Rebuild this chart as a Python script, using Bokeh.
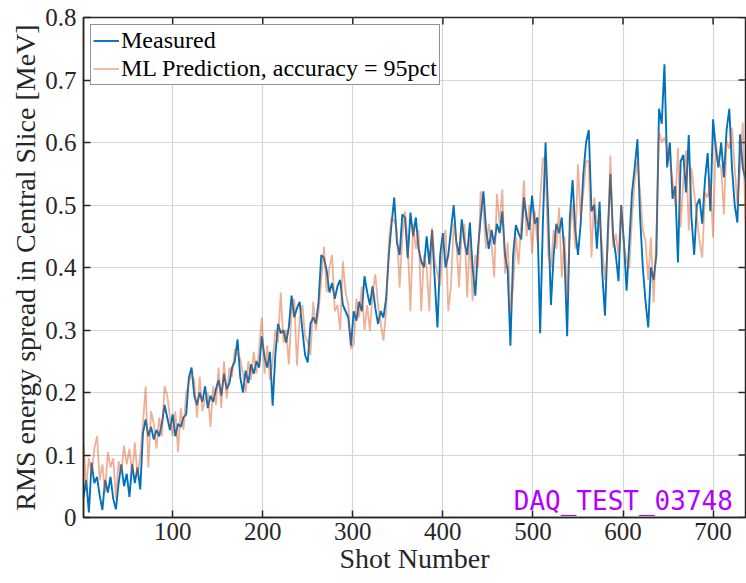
from bokeh.plotting import figure
from bokeh.models import Range1d, Legend, LegendItem, Label, FixedTicker
from bokeh.embed import file_html
from bokeh.resources import INLINE

measured = [
    0.032, 0.060, 0.008, 0.088, 0.055, 0.065, 0.035, 0.012, 0.060, 0.040,
    0.065, 0.030, 0.013, 0.055, 0.085, 0.050, 0.070, 0.033, 0.085, 0.055,
    0.080, 0.045, 0.135, 0.157, 0.130, 0.145, 0.125, 0.140, 0.130, 0.150,
    0.180, 0.160, 0.140, 0.165, 0.130, 0.150, 0.145, 0.160, 0.165, 0.224,
    0.240, 0.195, 0.180, 0.200, 0.185, 0.210, 0.175, 0.195, 0.185, 0.205,
    0.220, 0.195, 0.230, 0.205, 0.215, 0.240, 0.250, 0.285, 0.225, 0.200,
    0.235, 0.215, 0.245, 0.230, 0.250, 0.240, 0.290, 0.256, 0.240, 0.265,
    0.179, 0.260, 0.310, 0.295, 0.300, 0.280, 0.305, 0.355, 0.320, 0.335,
    0.345, 0.300, 0.260, 0.248, 0.310, 0.320, 0.310, 0.345, 0.420, 0.415,
    0.395, 0.360, 0.375, 0.350, 0.370, 0.380, 0.340, 0.330, 0.320, 0.275,
    0.330, 0.315, 0.345, 0.330, 0.386, 0.360, 0.340, 0.370, 0.335, 0.310,
    0.330, 0.320, 0.350, 0.420, 0.470, 0.512, 0.440, 0.420, 0.485, 0.480,
    0.415, 0.488, 0.450, 0.480, 0.430, 0.410, 0.400, 0.450, 0.405, 0.460,
    0.380, 0.304, 0.420, 0.455, 0.400, 0.420, 0.460, 0.500, 0.440, 0.420,
    0.477, 0.440, 0.420, 0.472, 0.400, 0.355, 0.430, 0.480, 0.522, 0.460,
    0.430, 0.460, 0.437, 0.470, 0.455, 0.490, 0.420, 0.395, 0.275, 0.420,
    0.468, 0.455, 0.445, 0.512, 0.480, 0.460, 0.515, 0.470, 0.480, 0.295,
    0.470, 0.600, 0.480, 0.340, 0.420, 0.470, 0.455, 0.480, 0.420, 0.290,
    0.480, 0.540, 0.460, 0.420, 0.470, 0.550, 0.600, 0.620, 0.490, 0.500,
    0.430, 0.505, 0.390, 0.323, 0.450, 0.550, 0.450, 0.420, 0.378, 0.500,
    0.440, 0.363, 0.440, 0.520, 0.560, 0.605, 0.480, 0.400, 0.346, 0.304,
    0.400, 0.380, 0.420, 0.654, 0.630, 0.725, 0.560, 0.600, 0.510, 0.530,
    0.408, 0.570, 0.580, 0.520, 0.612, 0.480, 0.420, 0.500, 0.510, 0.470,
    0.540, 0.583, 0.490, 0.637, 0.590, 0.560, 0.600, 0.544, 0.620, 0.654,
    0.560, 0.500, 0.472, 0.613, 0.560, 0.540,
]

predicted = [
    0.120, 0.050, 0.095, 0.070, 0.110, 0.130, 0.060, 0.085, 0.040, 0.105,
    0.080, 0.095, 0.030, 0.090, 0.070, 0.115, 0.085, 0.110, 0.070, 0.120,
    0.065, 0.100, 0.150, 0.210, 0.080, 0.170, 0.150, 0.110, 0.160, 0.130,
    0.210, 0.195, 0.160, 0.130, 0.170, 0.105, 0.175, 0.140, 0.200, 0.215,
    0.230, 0.220, 0.160, 0.225, 0.170, 0.190, 0.200, 0.145, 0.210, 0.180,
    0.240, 0.175, 0.250, 0.190, 0.240, 0.225, 0.270, 0.260, 0.255, 0.230,
    0.200, 0.250, 0.220, 0.265, 0.230, 0.270, 0.320, 0.230, 0.275, 0.220,
    0.250, 0.300, 0.280, 0.360, 0.280, 0.300, 0.245, 0.330, 0.350, 0.243,
    0.320, 0.340, 0.290, 0.280, 0.260, 0.345, 0.300, 0.330, 0.380, 0.433,
    0.360, 0.400, 0.420, 0.330, 0.340, 0.300, 0.410, 0.360, 0.340, 0.270,
    0.277, 0.350, 0.320, 0.370, 0.300, 0.340, 0.298, 0.360, 0.389, 0.340,
    0.310, 0.283, 0.330, 0.440, 0.480, 0.475, 0.460, 0.368, 0.450, 0.490,
    0.440, 0.330, 0.470, 0.430, 0.460, 0.330, 0.420, 0.400, 0.330, 0.464,
    0.410, 0.390, 0.370, 0.440, 0.460, 0.330, 0.370, 0.470, 0.440, 0.368,
    0.460, 0.470, 0.352, 0.450, 0.347, 0.420, 0.400, 0.522, 0.490, 0.430,
    0.470, 0.440, 0.384, 0.518, 0.470, 0.525, 0.390, 0.440, 0.330, 0.368,
    0.450, 0.405, 0.470, 0.539, 0.450, 0.500, 0.422, 0.490, 0.440, 0.507,
    0.576, 0.560, 0.420, 0.400, 0.460, 0.430, 0.496, 0.384, 0.450, 0.350,
    0.460, 0.500, 0.430, 0.565, 0.480, 0.520, 0.570, 0.570, 0.416, 0.512,
    0.470, 0.480, 0.430, 0.380, 0.430, 0.579, 0.432, 0.454, 0.420, 0.500,
    0.435, 0.410, 0.400, 0.480, 0.540, 0.571, 0.520, 0.460, 0.442, 0.380,
    0.448, 0.344, 0.450, 0.618, 0.600, 0.608, 0.591, 0.571, 0.540, 0.500,
    0.591, 0.464, 0.540, 0.587, 0.459, 0.560, 0.520, 0.480, 0.442, 0.416,
    0.520, 0.512, 0.540, 0.448, 0.600, 0.570, 0.560, 0.485, 0.603, 0.590,
    0.624, 0.560, 0.501, 0.560, 0.632, 0.474,
]

shots = list(range(1, 737, 3))
assert len(shots) == len(measured) == len(predicted), (len(shots), len(measured), len(predicted))

x_ticks = [100, 200, 300, 400, 500, 600, 700]
y_ticks = [0, 0.1, 0.2, 0.3, 0.4, 0.5, 0.6, 0.7, 0.8]

FONT = "Liberation Serif"
TXT = "#262626"
X0, X1, Y0, Y1 = 1, 736, 0.0, 0.8

p = figure(width=746, height=583, output_backend="svg", toolbar_location=None,
           x_range=Range1d(X0, X1), y_range=Range1d(Y0, Y1),
           min_border_left=83, min_border_right=1, min_border_top=17, min_border_bottom=66)
p.background_fill_color = "white"
p.border_fill_color = "white"
p.outline_line_color = TXT
p.outline_line_width = 1.5

for ax in (p.xaxis[0], p.yaxis[0]):
    ax.major_label_text_font = FONT
    ax.major_label_text_font_size = "25px"
    ax.major_label_text_color = TXT
    ax.axis_label_text_font = FONT
    ax.axis_label_text_font_style = "normal"
    ax.axis_label_text_color = TXT
    ax.axis_label_text_font_size = "28px"
    ax.axis_line_color = TXT
    ax.axis_line_width = 1.5
    ax.major_tick_line_color = TXT
    ax.major_tick_line_width = 1.5
    ax.major_tick_in = 7
    ax.major_tick_out = 0
    ax.minor_tick_line_color = None

p.xaxis[0].ticker = FixedTicker(ticks=x_ticks)
p.yaxis[0].ticker = FixedTicker(ticks=y_ticks)
p.yaxis[0].major_label_overrides = {0: "0"}
p.xaxis[0].axis_label = "Shot Number"
p.yaxis[0].axis_label = "RMS energy spread in Central Slice [MeV]"
p.xaxis[0].major_label_standoff = 5
p.yaxis[0].major_label_standoff = 7
p.xaxis[0].axis_label_standoff = 0
p.yaxis[0].axis_label_standoff = 1

p.xgrid.ticker = FixedTicker(ticks=x_ticks)
p.ygrid.ticker = FixedTicker(ticks=y_ticks)
p.grid.grid_line_color = "#d6d6d6"
p.grid.grid_line_width = 1.2

# inward ticks on the top and right edges of the box (MATLAB "box on")
frame_w = 746 - 83 - 1
frame_h = 583 - 17 - 66
tick_dx = 7 * (X1 - X0) / frame_w
tick_dy = 7 * (Y1 - Y0) / frame_h
p.segment(x0=x_ticks, y0=[Y1] * len(x_ticks), x1=x_ticks, y1=[Y1 - tick_dy] * len(x_ticks),
          line_color=TXT, line_width=1.5)
p.segment(x0=[X1] * len(y_ticks), y0=y_ticks, x1=[X1 - tick_dx] * len(y_ticks), y1=y_ticks,
          line_color=TXT, line_width=1.5)

r1 = p.line(shots, measured, line_color="#0072BD", line_width=1.9)
r2 = p.line(shots, predicted, line_color="#D95319", line_alpha=0.45, line_width=1.8)

legend = Legend(items=[LegendItem(label="Measured", renderers=[r1]),
                       LegendItem(label="ML Prediction, accuracy = 95pct", renderers=[r2])],
                location="top_left")
legend.label_text_font = FONT
legend.label_text_font_size = "24px"
legend.label_text_color = "black"
legend.border_line_color = TXT
legend.border_line_width = 1.5
legend.background_fill_alpha = 1
legend.glyph_width = 26
legend.glyph_height = 25
legend.label_standoff = 2
legend.label_height = 25
legend.spacing = 1
legend.padding = 2
legend.margin = 7
p.add_layout(legend)

p.add_layout(Label(x=722, y=0.026, text="DAQ_TEST_03748", text_font="DejaVu Sans Mono",
                   text_font_size="26px", text_color="#b300ff", text_align="right",
                   text_baseline="middle"))

open("out.html", "w").write(file_html(p, INLINE))
